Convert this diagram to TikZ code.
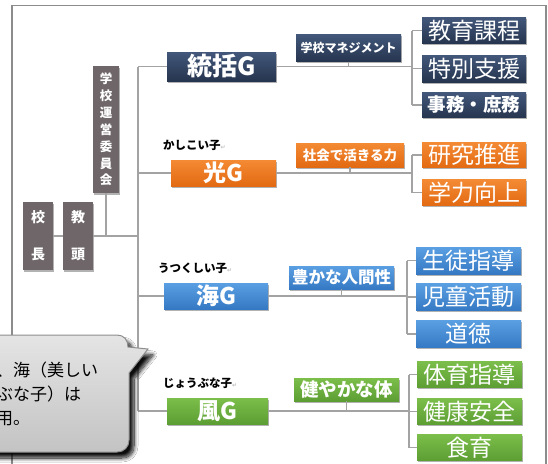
\documentclass[tikz,border=0pt]{standalone}
\usepackage{fontspec}
\setmainfont{Noto Sans CJK JP}
\newfontfamily\jp{Noto Sans CJK JP}
\newfontfamily\symf{DejaVu Sans}
\usetikzlibrary{shadows,shadows.blur}
\definecolor{navyT}{HTML}{42577A}
\definecolor{navyB}{HTML}{26354F}
\definecolor{orT}{HTML}{F48A34}
\definecolor{orB}{HTML}{E26A12}
\definecolor{blT}{HTML}{5A9FE2}
\definecolor{blB}{HTML}{3579C4}
\definecolor{grT}{HTML}{7CBE4A}
\definecolor{grB}{HTML}{5C9E33}
\definecolor{boxGray}{HTML}{6E6668}
\definecolor{lineGray}{HTML}{A3A3A3}
\definecolor{frameGray}{HTML}{8C8C8C}
\definecolor{callFill}{HTML}{D9D9D9}
\definecolor{callLine}{HTML}{8E8E8E}
\begin{document}
\begin{tikzpicture}[x=1pt,y=-1pt,
  conn/.style={draw=lineGray, line width=1.1pt},
  basebox/.style={rectangle, inner sep=0pt, text=white,
    drop shadow={shadow xshift=1pt, shadow yshift=-1.5pt, opacity=.3, fill=black}},
  graybox/.style={basebox, fill=boxGray},
  navybox/.style={basebox, top color=navyT, bottom color=navyB},
  orbox/.style={basebox, top color=orT, bottom color=orB},
  blbox/.style={basebox, top color=blT, bottom color=blB},
  grbox/.style={basebox, top color=grT, bottom color=grB},
  gfont/.style={font=\jp\bfseries\fontsize{23}{23}\selectfont},
  sfont/.style={font=\jp\bfseries\fontsize{#1}{#1}\selectfont},
  rfont/.style={font=\jp\fontsize{23}{23}\selectfont},
  kid/.style={anchor=west, inner sep=0pt, font=\jp\bfseries\fontsize{11.5}{11.5}\selectfont},
]
\useasboundingbox (0,0) rectangle (548,463);
\clip (0,0) rectangle (548,463);
\fill[white] (0,0) rectangle (548,463);
% frame
\draw[frameGray, line width=1.6pt] (12,480) -- (12,5.5) -- (546,5.5) -- (546,480);

% left boxes
\node[graybox, minimum width=30pt, minimum height=68pt, align=center,
  font=\jp\bfseries\fontsize{14}{37}\selectfont] (kocho) at (38,236) {校\\長};
\node[graybox, minimum width=30pt, minimum height=68pt, align=center,
  font=\jp\bfseries\fontsize{14}{37}\selectfont] (kyoto) at (78,236) {教\\頭};
\node[graybox, minimum width=26pt, minimum height=127pt, align=center,
  font=\jp\bfseries\fontsize{12.5}{16.9}\selectfont] (iinkai) at (106,129.5) {学\\校\\運\\営\\委\\員\\会};

% group boxes
\node[navybox, gfont, minimum width=109pt, minimum height=29pt, font=\jp\bfseries\fontsize{25}{25}\selectfont] (tokatsu) at (221.5,66.5) {統括G};
\node[orbox, gfont, minimum width=105pt, minimum height=26pt] (hikari) at (223.5,173) {光G};
\node[blbox, gfont, minimum width=104pt, minimum height=26pt] (umi) at (216,296) {海G};
\node[grbox, gfont, minimum width=101pt, minimum height=26pt] (kaze) at (217.5,411) {風G};

% kid labels
\node[kid] (kkashikoi) at (163,145) {かしこい子{\color{lightgray}\symf\fontsize{6}{6}\selectfont ↵}};
\node[kid] (kutsukushi) at (158,268) {うつくしい子{\color{lightgray}\symf\fontsize{6}{6}\selectfont ↵}};
\node[kid] (kjobu) at (163,383) {じょうぶな子{\color{lightgray}\symf\fontsize{6}{6}\selectfont ↵}};

% sub labels
\node[navybox, sfont=12, minimum width=105pt, minimum height=27pt] (mgmt) at (348.5,48) {学校マネジメント};
\node[orbox, sfont=13.5, minimum width=108pt, minimum height=24pt] (shakai) at (350,155) {社会で活きる力};
\node[blbox, sfont=16.5, minimum width=105pt, minimum height=23pt] (yutaka) at (341.5,277.5) {豊かな人間性};
\node[grbox, sfont=18.5, minimum width=105pt, minimum height=23pt] (sukoyaka) at (346.5,389.5) {健やかな体};

% right column
\node[navybox, rfont, minimum width=104pt, minimum height=26pt] (kyoiku) at (474,30.5) {教育課程};
\node[navybox, rfont, minimum width=104pt, minimum height=27pt] (tokubetsu) at (474,68.5) {特別支援};
\node[navybox, sfont=18.5, minimum width=104pt, minimum height=25pt] (jimu) at (474,105) {事務・庶務};
\node[orbox, rfont, minimum width=104pt, minimum height=25pt] (kenkyu) at (474,155) {研究推進};
\node[orbox, rfont, minimum width=104pt, minimum height=26pt] (gakuryoku) at (474,192.5) {学力向上};
\node[blbox, rfont, minimum width=105pt, minimum height=27pt] (seito) at (468.5,260.5) {生徒指導};
\node[blbox, rfont, minimum width=105pt, minimum height=27pt] (jido) at (468.5,297) {児童活動};
\node[blbox, rfont, minimum width=105pt, minimum height=27pt] (dotoku) at (468.5,334) {道徳};
\node[grbox, rfont, minimum width=105pt, minimum height=26pt] (taiiku) at (469.5,374.5) {体育指導};
\node[grbox, rfont, minimum width=105pt, minimum height=26pt] (kenko) at (469.5,411.5) {健康安全};
\node[grbox, rfont, minimum width=105pt, minimum height=26pt] (shokuiku) at (469.5,447.5) {食育};

% junction coordinates
\coordinate (mv) at (138,0);
\coordinate (v1) at (412,0);
\coordinate (v2) at (412,0);
\coordinate (v3) at (407,0);
\coordinate (v4) at (409,0);

% left connectors
\draw[conn] (kocho.east) -- (kyoto.west);
\draw[conn] (kyoto.east) -- (kyoto.east -| mv);
\draw[conn] (iinkai.south) -- (iinkai.south |- kyoto.east);
% main vertical
\draw[conn] (tokatsu.west -| mv) -- (kaze.west -| mv);
\draw[conn] (tokatsu.west -| mv) -- (tokatsu.west);
\draw[conn] (hikari.west -| mv) -- (hikari.west);
\draw[conn] (umi.west -| mv) -- (umi.west);
\draw[conn] (kaze.west -| mv) -- (kaze.west);
% group to column
\draw[conn] (tokatsu.east) -- (tokatsu.east -| v1);
\draw[conn] (mgmt.south) -- (mgmt.south |- tokatsu.east);
\draw[conn] (kyoiku.west -| v1) -- (jimu.west -| v1);
\draw[conn] (kyoiku.west -| v1) -- (kyoiku.west);
\draw[conn] (tokubetsu.west -| v1) -- (tokubetsu.west);
\draw[conn] (jimu.west -| v1) -- (jimu.west);

\draw[conn] (hikari.east) -- (hikari.east -| v2);
\draw[conn] (shakai.south) -- (shakai.south |- hikari.east);
\draw[conn] (kenkyu.west -| v2) -- (gakuryoku.west -| v2);
\draw[conn] (kenkyu.west -| v2) -- (kenkyu.west);
\draw[conn] (gakuryoku.west -| v2) -- (gakuryoku.west);

\draw[conn] (umi.east) -- (umi.east -| v3);
\draw[conn] (yutaka.south) -- (yutaka.south |- umi.east);
\draw[conn] (seito.west -| v3) -- (dotoku.west -| v3);
\draw[conn] (seito.west -| v3) -- (seito.west);
\draw[conn] (jido.west -| v3) -- (jido.west);
\draw[conn] (dotoku.west -| v3) -- (dotoku.west);

\draw[conn] (kaze.east) -- (kaze.east -| v4);
\draw[conn] (sukoyaka.south) -- (sukoyaka.south |- kaze.east);
\draw[conn] (taiiku.west -| v4) -- (shokuiku.west -| v4);
\draw[conn] (taiiku.west -| v4) -- (taiiku.west);
\draw[conn] (kenko.west -| v4) -- (kenko.west);
\draw[conn] (shokuiku.west -| v4) -- (shokuiku.west);

% callout
\path[top color=callFill!70!white, bottom color=callFill!90!black, draw=callLine, line width=1pt,
  blur shadow={shadow xshift=5pt, shadow yshift=-6pt, shadow blur radius=4pt, shadow blur steps=10, shadow opacity=95}]
  (-30,335) -- (117,335) .. controls (124,335) and (128,340) .. (128,347)
  -- (148,349) -- (129,373) -- (129,440) .. controls (129,447) and (124,452) .. (117,452)
  -- (-30,452) -- cycle;
\node[anchor=west, inner sep=0pt, align=left, font=\jp\fontsize{17}{24}\selectfont] (calltext) at (-4,394)
  {、海（美しい\\ぶな子）は\\用。};
\end{tikzpicture}
\end{document}
